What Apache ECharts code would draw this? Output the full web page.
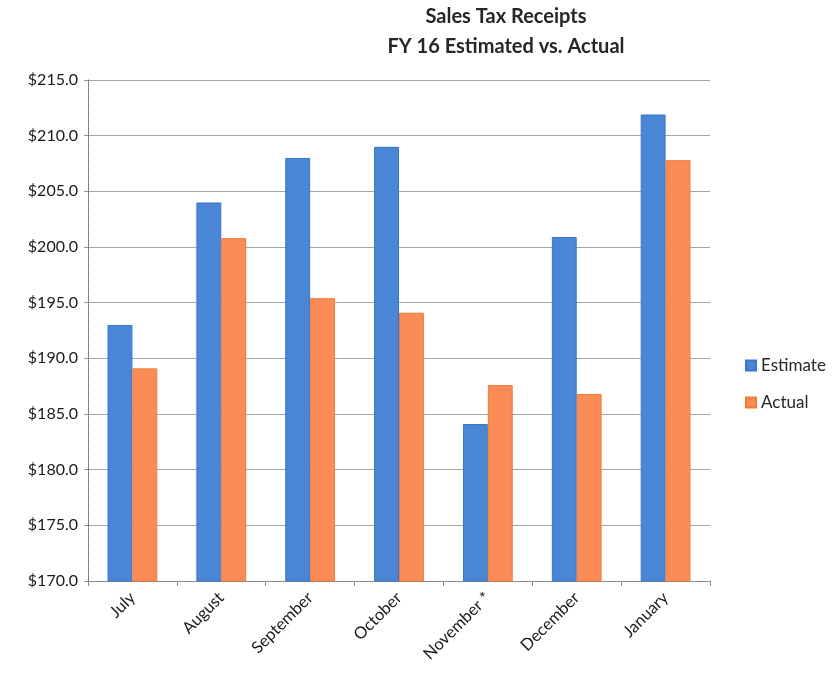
<!DOCTYPE html>
<html>
<head>
<meta charset="utf-8">
<script src="https://cdn.jsdelivr.net/npm/echarts@6/dist/echarts.min.js"></script>
<style>
html,body{margin:0;padding:0;background:#fff;}
#chart{width:835px;height:687px;}
</style>
</head>
<body>
<div id="chart"></div>
<script>
const categories = ['July', 'August', 'September', 'October', 'November *', 'December', 'January'];
const estimate = [193.0, 204.0, 208.0, 209.0, 184.1, 200.9, 211.9];
const actual = [189.1, 200.8, 195.4, 194.1, 187.6, 186.8, 207.8];
const yTicks = { min: 170, max: 215, interval: 5 };

const FONT = 'Lato';
const chart = echarts.init(document.getElementById('chart'));
chart.setOption({
  backgroundColor: '#fff',
  animation: false,
  title: {
    text: 'Sales Tax Receipts\nFY 16 Estimated vs. Actual',
    left: 501,
    textAlign: 'center',
    top: -3,
    textStyle: { fontFamily: FONT, fontSize: 20, fontWeight: 'bold', color: '#262626', lineHeight: 30 }
  },
  legend: {
    orient: 'vertical',
    left: 740,
    top: 352,
    itemWidth: 10,
    itemHeight: 10,
    itemGap: 20,
    icon: 'rect',
    textStyle: { fontFamily: FONT, fontSize: 17, color: '#262626' },
    data: ['Estimate', 'Actual']
  },
  grid: { left: 88, right: 125, top: 80, bottom: 106, containLabel: false },
  xAxis: {
    type: 'category',
    data: categories,
    axisLine: { lineStyle: { color: '#8c8c8c', width: 1 } },
    axisTick: { show: true, length: 5, lineStyle: { color: '#8c8c8c' } },
    axisLabel: { rotate: 45, fontFamily: FONT, fontSize: 16.5, color: '#1a1a1a', margin: 14, interval: 0 }
  },
  yAxis: {
    type: 'value',
    min: yTicks.min,
    max: yTicks.max,
    interval: yTicks.interval,
    axisLine: { show: true, lineStyle: { color: '#666', width: 1, type: 'dotted' } },
    axisTick: { show: true, length: 4, lineStyle: { color: '#999' } },
    splitLine: { lineStyle: { color: '#a6a6a6', width: 1 } },
    axisLabel: {
      fontFamily: FONT, fontSize: 16, color: '#1a1a1a', margin: 10,
      formatter: v => '$' + v.toFixed(1)
    }
  },
  series: [
    {
      name: 'Estimate', type: 'bar', data: estimate,
      barGap: '0%', barCategoryGap: '44%',
      itemStyle: { color: '#4a86d6', borderColor: '#3a74c6', borderWidth: 1 }
    },
    {
      name: 'Actual', type: 'bar', data: actual,
      itemStyle: { color: '#fb8c56', borderColor: '#f07a3a', borderWidth: 1 }
    }
  ]
});
</script>
</body>
</html>
